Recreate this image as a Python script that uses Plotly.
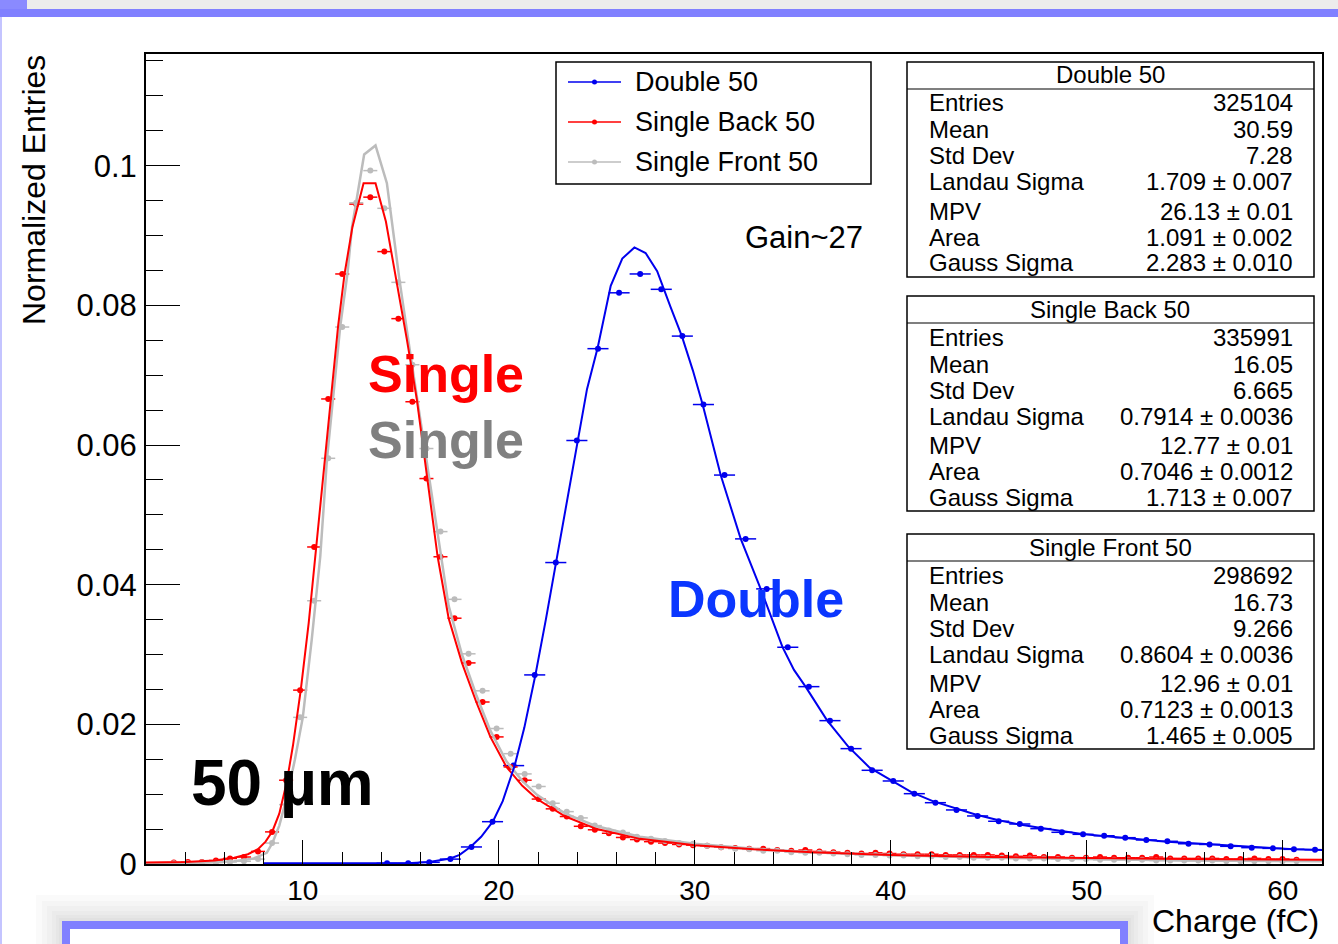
import numpy as np
import plotly.graph_objects as go

# ------------------------------------------------------------------ data
# histogram binning (bin centres = start + k*width)
single_bin_start = 3.42
single_bin_width = 0.716
double_bin_start = 14.30
double_bin_width = 1.076

single_back_vals = [
    0.0002, 0.0003, 0.0003, 0.0005, 0.0008, 0.0010, 0.0018, 0.0046, 0.0120, 0.0249,
    0.0454, 0.0666, 0.0845, 0.0945, 0.0955, 0.0877, 0.0781, 0.0662, 0.0552, 0.0440,
    0.0352, 0.0288, 0.0232, 0.0182, 0.0139, 0.0120, 0.0093, 0.0079, 0.0068, 0.0054,
    0.0049, 0.0044, 0.0038, 0.0035, 0.0032, 0.0030, 0.0028, 0.0027, 0.0026, 0.0024,
    0.0023, 0.0022, 0.0022, 0.0020, 0.0019, 0.0020, 0.0018, 0.0017, 0.0016, 0.0015,
    0.0016, 0.0015, 0.0014, 0.0014, 0.0014, 0.0013, 0.0013, 0.0013, 0.0013, 0.0012,
    0.0011, 0.0012, 0.0010, 0.0010, 0.0009, 0.0009, 0.0010, 0.0009, 0.0009, 0.0009,
    0.0010, 0.0008, 0.0008, 0.0008, 0.0008, 0.0007, 0.0007, 0.0008, 0.0007, 0.0007,
    0.0006,
]
single_front_vals = [
    0.0001, 0.0001, 0.0002, 0.0002, 0.0003, 0.0004, 0.0007, 0.0030, 0.0085, 0.0210,
    0.0377, 0.0581, 0.0769, 0.0947, 0.0993, 0.0939, 0.0833, 0.0715, 0.0595, 0.0476,
    0.0379, 0.0301, 0.0248, 0.0194, 0.0158, 0.0129, 0.0111, 0.0087, 0.0075, 0.0066,
    0.0055, 0.0048, 0.0045, 0.0039, 0.0036, 0.0033, 0.0030, 0.0029, 0.0026, 0.0024,
    0.0022, 0.0021, 0.0019, 0.0019, 0.0017, 0.0016, 0.0016, 0.0015, 0.0014, 0.0013,
    0.0013, 0.0012, 0.0012, 0.0011, 0.0011, 0.0010, 0.0010, 0.0009, 0.0009, 0.0009,
    0.0008, 0.0008, 0.0008, 0.0007, 0.0007, 0.0007, 0.0006, 0.0006, 0.0006, 0.0006,
    0.0005, 0.0005, 0.0005, 0.0005, 0.0005, 0.0004, 0.0004, 0.0004, 0.0004, 0.0004,
    0.0004,
]
double_vals = [
    0.0001, 0.0001, 0.00024, 0.0007, 0.00244, 0.00606, 0.01409, 0.02708, 0.04317, 0.06065,
    0.0738, 0.0818, 0.0845, 0.0823, 0.0756, 0.0658, 0.0557, 0.04656, 0.0394, 0.03104,
    0.0254, 0.02053, 0.01652, 0.01342, 0.01189, 0.01007, 0.00878, 0.00774, 0.00688, 0.00612,
    0.00573, 0.00506, 0.00454, 0.00425, 0.00405, 0.00377, 0.00344, 0.00325, 0.00290, 0.00280,
    0.00253, 0.00234, 0.00224, 0.00210, 0.00205,
]

# fitted curves
back_fit_x = [2.0, 4.0, 5.5, 6.5, 7.2, 7.7, 8.1, 8.45, 8.8, 9.18, 9.5, 9.9, 10.3, 10.68, 11.0,
              11.4, 11.8, 12.13, 12.53, 13.10, 13.71, 14.24, 14.72, 15.31, 15.82, 16.33, 16.88,
              17.44, 18.12, 18.85, 19.57, 20.39, 21.2, 21.95, 23.4, 25.0, 27.2, 30.0, 33.0,
              36.0, 40.0, 45.0, 50.0, 55.0, 62.0]
back_fit_y = [0.0002, 0.0003, 0.0005, 0.0009, 0.0014, 0.0021, 0.0032, 0.0047, 0.0072, 0.0117,
              0.0170, 0.0250, 0.0345, 0.0454, 0.0550, 0.0666, 0.0770, 0.0845, 0.0912, 0.0975,
              0.0975, 0.0920, 0.0846, 0.0751, 0.0665, 0.0560, 0.0440, 0.0352, 0.0288, 0.0232,
              0.0182, 0.0139, 0.0112, 0.0093, 0.0068, 0.0050, 0.0036, 0.0027, 0.0021, 0.0017,
              0.0013, 0.0010, 0.0008, 0.0007, 0.0006]
front_fit_x = [2.0, 5.0, 6.5, 7.5, 8.16, 8.45, 8.8, 9.18, 9.6, 10.0, 10.45, 10.89, 11.23, 11.57,
               11.91, 12.28, 12.51, 13.13, 13.71, 14.29, 14.93, 15.48, 16.08, 16.67, 17.44,
               18.12, 18.85, 19.57, 20.39, 21.2, 21.95, 23.4, 25.0, 27.2, 30.0, 33.0, 36.0,
               40.0, 45.0, 50.0, 55.0, 62.0]
front_fit_y = [0.0001, 0.0002, 0.0004, 0.0008, 0.0016, 0.0030, 0.0055, 0.0095, 0.0150, 0.0210,
               0.0320, 0.0440, 0.0579, 0.0674, 0.0770, 0.0846, 0.0912, 0.1016, 0.1029, 0.0975,
               0.0837, 0.0732, 0.0622, 0.0512, 0.0370, 0.0300, 0.0242, 0.0191, 0.0147, 0.0119,
               0.0099, 0.0072, 0.0054, 0.0039, 0.0029, 0.0022, 0.0017, 0.0013, 0.0009, 0.0007,
               0.0005, 0.0004]
double_fit_x = [8.0, 14.0, 15.35, 16.45, 17.53, 18.0, 18.58, 19.1, 19.70, 20.2, 20.81, 21.3,
                21.87, 22.4, 22.92, 23.45, 24.0, 24.5, 25.05, 25.71, 26.30, 26.92, 27.49, 28.08,
                28.76, 29.34, 29.9, 30.40, 31.32, 32.34, 33.36, 34.47, 35.06, 35.65, 36.74,
                37.83, 38.92, 40.0, 41.05, 42.14, 43.23, 44.32, 45.45, 46.5, 47.59, 48.68,
                49.75, 50.84, 52.0, 53.0, 54.1, 55.2, 56.3, 57.3, 58.4, 59.5, 60.6, 62.0]
double_fit_y = [0.0001, 0.0001, 0.0001, 0.0003, 0.0008, 0.0013, 0.0025, 0.0039, 0.0061, 0.0090,
                0.0141, 0.0195, 0.0271, 0.0350, 0.0432, 0.0520, 0.0607, 0.0680, 0.0740, 0.0828,
                0.0867, 0.0883, 0.0875, 0.0849, 0.0798, 0.0756, 0.0707, 0.0658, 0.0557, 0.0466,
                0.0394, 0.0311, 0.0278, 0.0254, 0.0206, 0.0168, 0.0138, 0.0120, 0.0103, 0.0090,
                0.0080, 0.0071, 0.0063, 0.0057, 0.0052, 0.0047, 0.0043, 0.0040, 0.0037, 0.0034,
                0.0032, 0.0030, 0.0028, 0.0026, 0.0024, 0.0023, 0.0021, 0.0020]

x_range = [2, 62]
y_range = [0, 0.116]
x_tick_vals = [10, 20, 30, 40, 50, 60]
y_tick_vals = [0, 0.02, 0.04, 0.06, 0.08, 0.1]
y_tick_text = ["0", "0.02", "0.04", "0.06", "0.08", "0.1"]

series_names = ["Double 50", "Single Back 50", "Single Front 50"]
stat_labels = ["Entries", "Mean", "Std Dev", "Landau Sigma", "MPV", "Area", "Gauss Sigma"]
double_stats = ["325104", "30.59", "7.28", "1.709 ± 0.007", "26.13 ± 0.01", "1.091 ± 0.002", "2.283 ± 0.010"]
back_stats = ["335991", "16.05", "6.665", "0.7914 ± 0.0036", "12.77 ± 0.01", "0.7046 ± 0.0012", "1.713 ± 0.007"]
front_stats = ["298692", "16.73", "9.266", "0.8604 ± 0.0036", "12.96 ± 0.01", "0.7123 ± 0.0013", "1.465 ± 0.005"]

# ------------------------------------------------------------------ style
BLUE = "#0000ee"
RED = "#ff0000"
GRAY = "#bcbcbc"
FONT = "Liberation Sans, Arial, Helvetica, sans-serif"

W, H = 1338, 944
L, R, T, B = 146, 16, 54, 80
PW, PH = W - L - R, H - T - B


def xp(px):
    return (px - L) / PW


def yp(py):
    return (H - B - py) / PH


def centers(start, width, n):
    return [start + width * k for k in range(n)]


fig = go.Figure()

sb_x = centers(single_bin_start, single_bin_width, len(single_back_vals))
sf_x = centers(single_bin_start, single_bin_width, len(single_front_vals))
d_x = centers(double_bin_start, double_bin_width, len(double_vals))


def pts(x, y, color, w):
    return go.Scatter(
        x=x, y=y, mode="markers", showlegend=False, hoverinfo="skip",
        marker=dict(color=color, size=6, symbol="circle"),
        error_x=dict(type="constant", value=w / 2, width=0, thickness=1.5, color=color),
    )


def fit(x, y, color, lw):
    return go.Scatter(x=x, y=y, mode="lines", showlegend=False, hoverinfo="skip",
                      line=dict(color=color, width=lw))


fig.add_trace(pts(d_x, double_vals, BLUE, double_bin_width))
fig.add_trace(pts(sb_x, single_back_vals, RED, single_bin_width))
fig.add_trace(pts(sf_x, single_front_vals, GRAY, single_bin_width))
fig.add_trace(fit(front_fit_x, front_fit_y, GRAY, 2.5))
fig.add_trace(fit(back_fit_x, back_fit_y, RED, 2))
fig.add_trace(fit(double_fit_x, double_fit_y, BLUE, 2))

shapes = []
annots = []


def rect_px(x0, y0, x1, y1, **kw):
    shapes.append(dict(type="rect", xref="paper", yref="paper",
                       x0=xp(x0), x1=xp(x1), y0=yp(y1), y1=yp(y0), **kw))


def line_px(x0, y0, x1, y1, color="black", width=1):
    shapes.append(dict(type="line", xref="paper", yref="paper",
                       x0=xp(x0), x1=xp(x1), y0=yp(y0), y1=yp(y1),
                       line=dict(color=color, width=width)))


def text_px(x, y, s, size, color="black", xanchor="left", bold=False, **kw):
    if bold:
        s = "<b>" + s + "</b>"
    annots.append(dict(xref="paper", yref="paper", x=xp(x), y=yp(y), text=s,
                       showarrow=False, xanchor=xanchor, yanchor="middle",
                       font=dict(family=FONT, size=size, color=color), **kw))


# slide decorations
rect_px(0, 0, W, 9, fillcolor="#ececec", line=dict(width=0), layer="below")
rect_px(0, 9, W, 17, fillcolor="#8080ff", line=dict(width=0), layer="below")
rect_px(0, 0, 27, 9, fillcolor="#8a8aff", line=dict(width=0), layer="below")
rect_px(0, 17, 2, H, fillcolor="#c4c4ff", line=dict(width=0), layer="below")
for i, d in enumerate([26, 20, 15, 10, 6, 3]):
    rect_px(62 - d, 921 - d, 1128 + d, H + 40, fillcolor="rgba(0,0,0,0.018)",
            line=dict(width=0), layer="below")
rect_px(66, 925, 1124, H + 40, fillcolor="white", line=dict(color="#8080ff", width=8))

# legend
rect_px(556, 62, 871, 184, fillcolor="white", line=dict(color="black", width=1.5))
leg_cols = [BLUE, RED, GRAY]
leg_rows = [82, 122, 162]
for name, col, yy in zip(series_names, leg_cols, leg_rows):
    line_px(568, yy, 621, yy, color=col, width=1.5)
    shapes.append(dict(type="circle", xref="paper", yref="paper",
                       x0=xp(592), x1=xp(597), y0=yp(yy + 2.5), y1=yp(yy - 2.5),
                       fillcolor=col, line=dict(color=col, width=0)))
    text_px(633, yy, name, 27)

# stats boxes
box_tops = [62, 296, 534]
box_titles = series_names
box_vals = [double_stats, back_stats, front_stats]
row_off = [41, 68, 94, 120, 149, 175, 201]
for top, title, vals in zip(box_tops, box_titles, box_vals):
    rect_px(907, top, 1314, top + 215, fillcolor="white", line=dict(color="black", width=1.5))
    line_px(907, top + 27, 1314, top + 27, width=1.2)
    text_px(1110, top + 13, title, 24, xanchor="center")
    for lab, val, off in zip(stat_labels, vals, row_off):
        text_px(927, top + off, lab, 24)
        text_px(1295, top + off, val, 24, xanchor="right")

# in-plot labels
text_px(366, 374, "Single", 52, color="#ff0000", bold=True)
text_px(366, 440, "Single", 52, color="#808080", bold=True)
text_px(666, 599, "Double", 52, color="#0a36ff", bold=True)
text_px(189, 783, "50 µm", 64, color="black", bold=True)
text_px(743, 237, "Gain~27", 31)

# axis titles
annots.append(dict(xref="paper", yref="paper", x=xp(34), y=yp(53), text="Normalized Entries",
                   showarrow=False, textangle=-90, xanchor="center", yanchor="top",
                   font=dict(family=FONT, size=32, color="black")))
text_px(1321, 921, "Charge (fC)", 32, xanchor="right")

axis_common = dict(showgrid=False, zeroline=False, showline=True, linewidth=2,
                   linecolor="black", mirror=True, ticks="inside", tickcolor="black",
                   tickwidth=1)

fig.update_layout(
    width=W, height=H, margin=dict(l=L, r=R, t=T, b=B),
    paper_bgcolor="white", plot_bgcolor="white",
    showlegend=False,
    xaxis=dict(range=x_range, tickvals=x_tick_vals, ticklen=24,
               minor=dict(dtick=2, tick0=0, ticklen=12, ticks="inside", tickcolor="black", tickwidth=1),
               ticklabelstandoff=0, tickfont=dict(family=FONT, size=28, color="black"),
               **axis_common),
    yaxis=dict(range=y_range, tickvals=y_tick_vals, ticktext=y_tick_text, ticklen=34,
               minor=dict(dtick=0.005, tick0=0, ticklen=17, ticks="inside", tickcolor="black", tickwidth=1),
               ticklabelstandoff=1, tickfont=dict(family=FONT, size=31, color="black"),
               **axis_common),
    shapes=shapes, annotations=annots,
)

fig.write_html("out.html")
